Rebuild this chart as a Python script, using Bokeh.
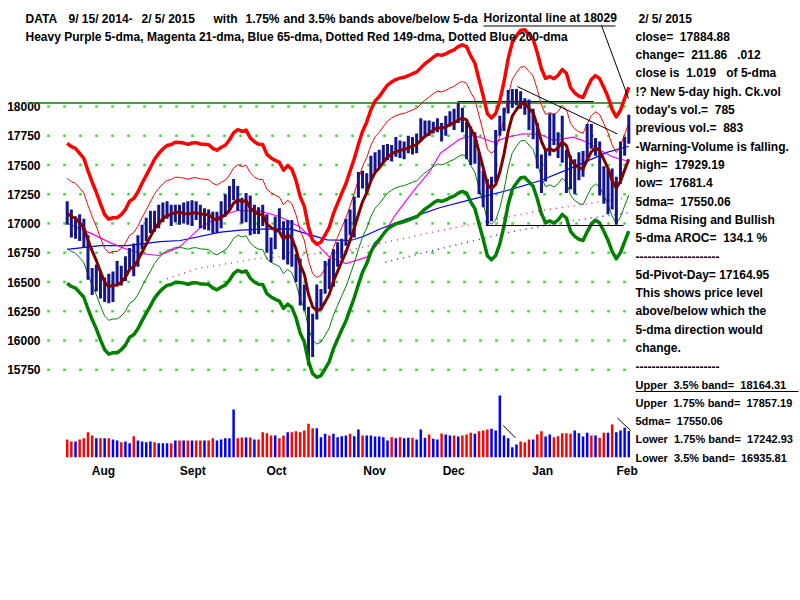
from bokeh.plotting import figure
from bokeh.models import Range1d, FixedTicker, ColumnDataSource, Label
from bokeh.embed import file_html
from bokeh.resources import INLINE
from bokeh.core.properties import value

# ---------------- data (DJIA, 7/24/2014 - 2/5/2015) ----------------
prior_closes = [17100.18, 17051.73, 17113.54, 17086.63]
closes = [17083.80, 16960.57, 16982.59, 16912.11, 16880.36, 16563.30,
          16493.37, 16569.28, 16429.47, 16443.34, 16368.27, 16553.93, 16569.98, 16560.54, 16651.80, 16713.58,
          16662.91, 16838.74, 16919.59, 16979.13, 17039.49, 17001.22, 17076.87, 17106.70, 17122.01, 17079.57, 17098.45,
          17067.56, 17078.28, 17069.58, 17137.36, 17111.42, 17013.87, 17068.71, 17049.00, 16987.51, 17031.14,
          17131.97, 17156.85, 17265.99, 17279.74, 17172.68, 17055.87, 17210.06, 16945.80, 17113.15, 17071.22, 17042.90,
          16804.71, 16801.05, 17009.69, 16991.91, 16719.39, 16994.22, 16659.25, 16544.10, 16321.07, 16315.19,
          16141.74, 16117.24, 16380.41, 16399.67, 16614.81, 16461.32, 16677.90, 16805.41, 16817.94, 17005.75,
          16974.31, 17195.42, 17390.52,
          17366.24, 17383.84, 17484.53, 17554.47, 17573.93, 17613.74, 17614.90, 17612.20, 17652.79, 17634.74,
          17647.75, 17687.82, 17685.73, 17719.00, 17810.06, 17817.90, 17814.94, 17827.75, 17828.24,
          17776.80, 17879.55, 17912.62, 17900.10, 17958.79, 17852.48, 17801.20, 17533.15, 17596.34, 17280.83,
          17180.84, 17068.87, 17356.87, 17778.15, 17804.80, 17959.44, 18024.17, 18030.21, 18053.71, 18038.23,
          17983.07, 17823.07,
          17832.99, 17501.65, 17371.64, 17584.52, 17907.87, 17737.37, 17640.84, 17613.68, 17427.09, 17320.71,
          17511.57, 17515.23, 17554.28, 17813.98, 17672.60, 17678.70, 17387.21, 17191.37, 17416.85, 17164.95,
          17361.04, 17666.40, 17673.02, 17884.88]
highs = [17190, 17120, 17060, 17080, 17040, 16900,
         16620, 16650, 16600, 16540, 16570, 16590, 16680, 16640, 16720, 16790, 16830, 16900, 16990, 17050, 17110,
         17110, 17160, 17180, 17190, 17160, 17160,
         17160, 17180, 17190, 17200, 17190, 17160, 17130, 17120, 17100, 17100, 17190, 17250, 17320, 17380, 17320,
         17220, 17260, 17240, 17160, 17140, 17160,
         17080, 16880, 17060, 17130, 17020, 17030, 17030, 16740, 16700, 16480, 16290, 16230, 16480, 16440, 16680,
         16700, 16780, 16840, 16870, 17040, 17120, 17230, 17440,
         17450, 17430, 17580, 17610, 17630, 17670, 17680, 17670, 17740, 17710, 17700, 17750, 17740, 17770, 17900,
         17880, 17880, 17870, 17900,
         17860, 17920, 17960, 17980, 18030, 17990, 17870, 17830, 17780, 17610, 17450, 17380, 17400, 17800, 17920,
         17990, 18140, 18150, 18150, 18130, 18070, 18060,
         17980, 17860, 17590, 17620, 17940, 17940, 17780, 17920, 17630, 17580, 17550, 17610, 17620, 17850, 17850,
         17730, 17700, 17490, 17460, 17470,
         17400, 17700, 17740, 17929.19]
lows = [16990, 16880, 16870, 16850, 16800, 16520,
        16390, 16420, 16360, 16330, 16320, 16330, 16480, 16470, 16510, 16600, 16550, 16630, 16780, 16850, 16920,
        16930, 16960, 17010, 17040, 16980, 17010,
        16990, 17000, 16990, 16980, 17030, 16960, 16950, 16940, 16920, 16920, 16960, 17060, 17110, 17200, 17110,
        17000, 17010, 16900, 16910, 16910, 16980,
        16750, 16670, 16780, 16940, 16690, 16650, 16630, 16500, 16300, 16260, 15790, 15860, 16180, 16260, 16400,
        16440, 16460, 16630, 16700, 16810, 16900, 16880, 17220,
        17300, 17260, 17370, 17440, 17480, 17520, 17540, 17530, 17570, 17560, 17550, 17600, 17590, 17600, 17700,
        17750, 17750, 17770, 17780,
        17700, 17750, 17830, 17800, 17860, 17780, 17550, 17500, 17510, 17250, 17140, 16980, 17020, 17350, 17750,
        17790, 17940, 17990, 18010, 17980, 17930, 17800,
        17720, 17470, 17260, 17360, 17580, 17670, 17560, 17520, 17260, 17290, 17250, 17370, 17400, 17530, 17640,
        17580, 17240, 17170, 17080, 17120,
        16990, 17340, 17580, 17681.4]
volumes = [530, 470, 470, 530, 570, 750,
           650, 570, 570, 570, 570, 530, 500, 450, 470, 420, 630, 500, 470, 450, 470, 450, 420, 420, 420, 420, 500,
           500, 500, 500, 500, 500, 500, 500, 500, 570, 500, 530, 570, 570, 1430, 570, 590, 590, 590, 530, 530, 750,
           720, 650, 650, 570, 650, 750, 750, 780, 750, 800, 1000, 870, 870, 600, 700, 650, 700, 600, 630, 650, 700,
           630, 830,
           650, 650, 650, 620, 620, 600, 500, 600, 570, 600, 570, 580, 580, 530, 830, 580, 680, 550, 530,
           710, 680, 650, 650, 620, 650, 680, 730, 700, 780, 800, 830, 850, 800, 1850, 650, 570, 300, 380, 470, 450,
           530,
           530, 680, 780, 620, 680, 600, 630, 720, 720, 700, 800, 720, 620, 730, 650, 650, 580, 730, 730, 980,
           750, 800, 880, 785]

# moving averages (bar index, value)
ma21_x = [0, 6, 10, 14, 18, 22, 27, 32, 37, 41, 46, 51, 56, 60, 63, 67, 72, 75, 78.5, 83.3, 87.3, 89.7, 94.5,
          97.7, 100, 102.5, 105.8, 109.6, 113.8, 116.9, 121.7, 125, 128.2, 131.3, 134.2, 135]
ma21_y = [17003, 16912, 16841, 16784, 16742, 16727, 16798, 16965, 17069, 17111, 17111, 17060, 16969, 16827, 16713,
          16658, 16713, 16841, 17054, 17282, 17453, 17600, 17724, 17752, 17727, 17695, 17738, 17767, 17761, 17710,
          17738, 17695, 17624, 17567, 17539, 17535]
ma65_x = [0, 8, 14.4, 22.4, 27.2, 36.9, 41.7, 46.5, 53.7, 57.7, 62.5, 68.1, 71.2, 75.3, 81.7, 89.7, 97.7, 105.8,
          113.8, 121.7, 129.9, 135]
ma65_y = [16780, 16812, 16812, 16845, 16855, 16926, 16943, 16952, 16955, 16912, 16861, 16855, 16889, 16955, 17040,
          17137, 17211, 17282, 17368, 17482, 17610, 17660]
ma149_x = [24, 31.2, 45.7, 65.7, 89.7, 113.8, 135]
ma149_y = [16528, 16614, 16700, 16756, 16940, 17111, 17222]
ma200_x = [76.5, 89.7, 105.8, 121.7, 135]
ma200_y = [16670, 16785, 16923, 17026, 17092]

hline_level = 18029
month_labels = ["Aug", "Sept", "Oct", "Nov", "Dec", "Jan", "Feb"]
month_pos = [8.7, 30.2, 50.3, 73.9, 92.9, 114.3, 134.6]
y_ticks = [15750, 16000, 16250, 16500, 16750, 17000, 17250, 17500, 17750, 18000]

# title pieces: (text, left px)
title1 = [("DATA", 25), ("9/ 15/ 2014-", 68), ("2/ 5/ 2015", 141), ("with", 213),
          ("1.75%", 245), ("and 3.5% bands above/below 5-da", 283)]
title2 = "Heavy Purple 5-dma, Magenta 21-dma, Blue 65-dma, Dotted Red 149-dma, Dotted Blue 200-dma"
hlabel = "Horizontal line at 18029"
panel = ["2/ 5/ 2015", "close=  17884.88", "change=  211.86   .012", "close is  1.019   of 5-dma",
         "!? New 5-day high. Ck.vol", "today's vol.=  785", "previous vol.=  883",
         "-Warning-Volume is falling.", "high=  17929.19", "low=  17681.4", "5dma=  17550.06",
         "5dma Rising and Bullish", "5-dma AROC=  134.1 %", "---------------------",
         "5d-Pivot-Day= 17164.95", "This shows price level", "above/below which the",
         "5-dma direction would", "change.", "---------------------",
         "Upper  3.5% band=  18164.31", "Upper  1.75% band=  17857.19", "5dma=  17550.06",
         "Lower  1.75% band=  17242.93", "Lower  3.5% band=  16935.81"]

# ---------------- layout helpers (reference pixel -> data) ----------------
X0, DX = 66.7, 4.16
Y0, PPU = 106.0, 29.26 / 250.0
FB = 476  # frame bottom (px)
def X(px): return (px - X0) / DX
def Y(py): return 18000 - (py - Y0) / PPU
def V(py): return (456.7 - py) * 30.0
def nb(s): return s.replace(" ", "\u00a0")

n = len(closes)
idx = list(range(n))
allc = prior_closes + closes
sma5 = [sum(allc[i:i + 5]) / 5.0 for i in range(n)]
up35 = [s * 1.035 for s in sma5]
up175 = [s * 1.0175 for s in sma5]
dn175 = [s * 0.9825 for s in sma5]
dn35 = [s * 0.965 for s in sma5]
prev = [prior_closes[-1]] + closes[:-1]
vcol = ["#0000ff" if c > pc else "#ff0000" for c, pc in zip(closes, prev)]

p = figure(width=800, height=600, x_range=Range1d(X(0), X(800)), y_range=Range1d(Y(FB), Y(0)),
           output_backend="svg", toolbar_location=None, title=None,
           min_border_left=0, min_border_right=0, min_border_top=0, min_border_bottom=600 - FB)
p.extra_y_ranges = {"vol": Range1d(V(FB), V(0))}
p.background_fill_color = "white"
p.border_fill_color = "white"
p.outline_line_color = None
p.xgrid.visible = False
p.ygrid.visible = False
p.yaxis.visible = False

xa = p.xaxis[0]
xa.axis_line_color = None
xa.major_tick_line_color = None
xa.minor_tick_line_color = None
xa.major_tick_out = 0
xa.major_tick_in = 0
xa.major_label_text_font = "Liberation Sans"
xa.major_label_text_font_style = "bold"
xa.major_label_text_font_size = "12px"
xa.major_label_text_color = "black"
xa.ticker = FixedTicker(ticks=month_pos)
xa.major_label_overrides = {pos: lab for pos, lab in zip(month_pos, month_labels)}
xa.major_label_standoff = -13

TF = value("Liberation Sans")
# y tick labels (price scale)
p.text(x=[X(40)] * len(y_ticks), y=y_ticks, text=[str(t) for t in y_ticks], text_font=TF,
       text_font_style="bold", text_font_size="12px", text_align="right", text_baseline="middle",
       text_color="black")

# dotted grid
gx, gy = [], []
for t in y_ticks:
    for px in range(48, 625, 16):
        gx.append(X(px))
        gy.append(t)
p.scatter(gx, gy, marker="square", size=2.5, color="#33dd33", line_color=None)

# horizontal line at 18029
p.segment(x0=[X(27)], y0=[hline_level], x1=[X(622)], y1=[hline_level], line_color="#008000", line_width=1.5)
p.segment(x0=[X(457)], y0=[Y(101)], x1=[X(593)], y1=[Y(101)], line_color="black", line_width=1)

# long moving averages
p.line(ma149_x, ma149_y, line_color="#e0306a", line_width=1.5, line_dash="1 5")
p.line(ma200_x, ma200_y, line_color="#2020ff", line_width=1.5, line_dash="1 5")
p.line(ma65_x, ma65_y, line_color="#0000ff", line_width=1.2)
p.line(ma21_x, ma21_y, line_color="#ff00ff", line_width=1.2)

# thin bands
p.line(idx, up175, line_color="#ff0000", line_width=1)
p.line(idx, dn175, line_color="#008000", line_width=1)

# price bars
src = ColumnDataSource(dict(x=idx, hi=highs, lo=lows))
p.segment(x0="x", y0="lo", x1="x", y1="hi", source=src, line_color="#14148c", line_width=3)

# 5-dma and thick bands
p.line(idx, sma5, line_color="#800000", line_width=3, line_join="round")
p.line(idx, up35, line_color="#ff0000", line_width=3.5, line_join="round")
p.line(idx, dn35, line_color="#008000", line_width=3.5, line_join="round")

# trend lines
p.segment(x0=[X(516.7)], y0=[Y(86)], x1=[X(616.7)], y1=[Y(133.3)], line_color="black", line_width=1)
p.segment(x0=[X(486)], y0=[Y(225)], x1=[X(623)], y1=[Y(225)], line_color="black", line_width=1)
p.segment(x0=[X(601)], y0=[Y(25)], x1=[X(628)], y1=[Y(98)], line_color="black", line_width=1)

# volume
vsrc = ColumnDataSource(dict(x=idx, v=volumes, c=vcol))
p.vbar(x="x", top="v", bottom=0, width=0.6, source=vsrc, fill_color="c", line_color=None, y_range_name="vol")
p.segment(x0=[X(502.7), X(616.7)], y0=[V(425), V(417.3)], x1=[X(515), X(630)], y1=[V(437.3), V(430)],
          line_color="black", line_width=1, y_range_name="vol")

# texts
def add_label(txt, px, py, bg=None, size="12px"):
    lab = Label(x=X(px), y=Y(py), text=nb(txt), text_font="Liberation Sans", text_font_style="bold",
                text_font_size=size, text_color="black", text_baseline="middle", text_align="left")
    if bg:
        lab.background_fill_color = bg
    p.add_layout(lab)

for t, px in title1:
    add_label(t, px, 18)
add_label(title2, 25, 36)
add_label(hlabel, 483, 17, bg="white")
p.segment(x0=[X(483)], y0=[Y(25.5)], x1=[X(615)], y1=[Y(25.5)], line_color="black", line_width=1)

ys = [18 + 18.3 * k for k in range(len(panel))]
for k, (t, yy) in enumerate(zip(panel, ys)):
    add_label(t, 638 if k == 0 else 635, yy, size="11px" if k >= 20 else "12px")
p.segment(x0=[X(635)], y0=[Y(ys[20] + 7)], x1=[X(798)], y1=[Y(ys[20] + 7)], line_color="black", line_width=1)

open("out.html", "w").write(file_html(p, INLINE))
